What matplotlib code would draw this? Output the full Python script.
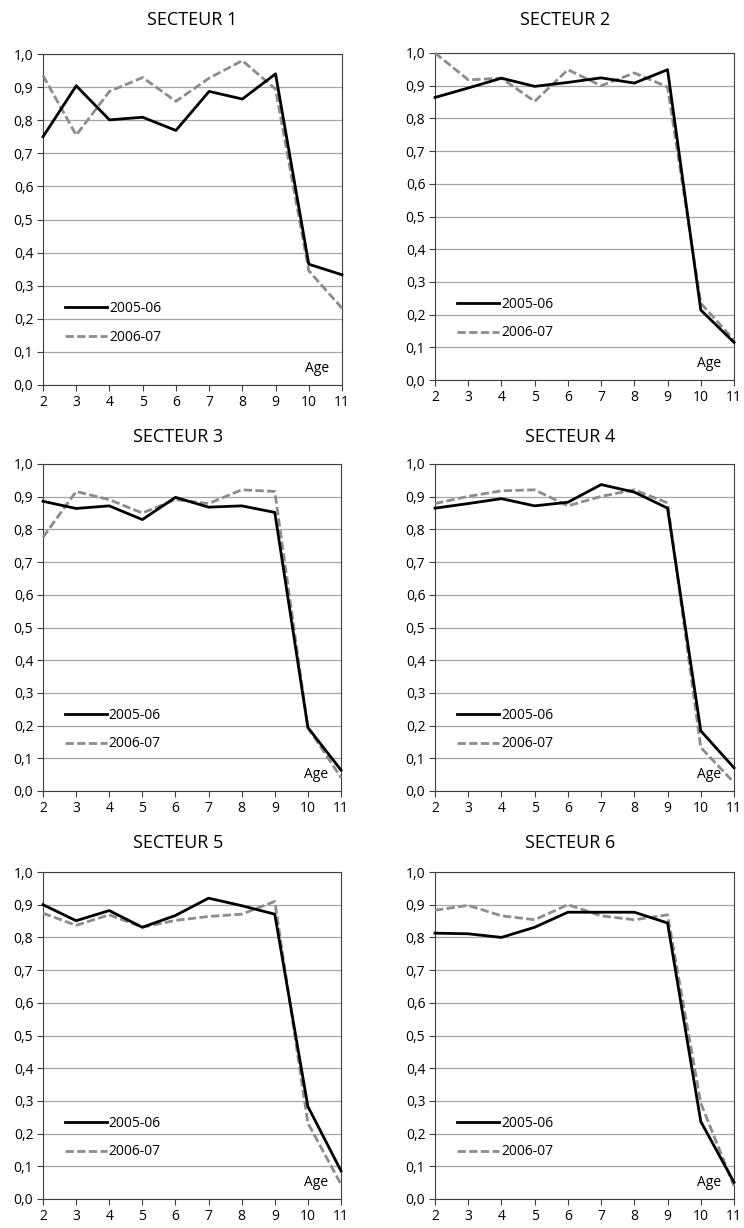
import matplotlib
matplotlib.use("Agg")
import matplotlib.pyplot as plt
import numpy as np

plt.rcParams['font.family'] = ['Open Sans', 'DejaVu Sans']

ages = [2, 3, 4, 5, 6, 7, 8, 9, 10, 11]
age_labels = ['2', '3', '4', '5', '6', '7', '8', '9', '10', '11']
series_labels = ['2005-06', '2006-07']
titles = ['SECTEUR 1', 'SECTEUR 2', 'SECTEUR 3', 'SECTEUR 4', 'SECTEUR 5', 'SECTEUR 6']

s1_2005 = [0.750, 0.904, 0.801, 0.809, 0.769, 0.887, 0.864, 0.940, 0.365, 0.333]
s1_2006 = [0.935, 0.755, 0.887, 0.929, 0.857, 0.927, 0.980, 0.894, 0.345, 0.232]
s2_2005 = [0.864, 0.893, 0.923, 0.898, 0.910, 0.924, 0.908, 0.949, 0.214, 0.115]
s2_2006 = [1.000, 0.918, 0.923, 0.852, 0.949, 0.900, 0.939, 0.896, 0.235, 0.122]
s3_2005 = [0.886, 0.864, 0.872, 0.830, 0.898, 0.868, 0.872, 0.852, 0.194, 0.064]
s3_2006 = [0.776, 0.916, 0.891, 0.850, 0.891, 0.879, 0.921, 0.916, 0.194, 0.041]
s4_2005 = [0.865, 0.879, 0.894, 0.872, 0.883, 0.937, 0.914, 0.865, 0.184, 0.071]
s4_2006 = [0.879, 0.901, 0.918, 0.921, 0.872, 0.901, 0.921, 0.881, 0.133, 0.026]
s5_2005 = [0.900, 0.851, 0.882, 0.831, 0.867, 0.920, 0.897, 0.871, 0.283, 0.086]
s5_2006 = [0.874, 0.837, 0.869, 0.831, 0.852, 0.864, 0.871, 0.910, 0.232, 0.045]
s6_2005 = [0.813, 0.811, 0.800, 0.831, 0.877, 0.877, 0.877, 0.844, 0.237, 0.051]
s6_2006 = [0.883, 0.898, 0.866, 0.854, 0.900, 0.866, 0.854, 0.869, 0.293, 0.040]

data = [(s1_2005, s1_2006), (s2_2005, s2_2006), (s3_2005, s3_2006),
        (s4_2005, s4_2006), (s5_2005, s5_2006), (s6_2005, s6_2006)]

W, H = 744, 1228
fig = plt.figure(figsize=(W / 100, H / 100), dpi=100)

# axes boxes in pixels: (left, top, right, bottom)
boxes = [(43, 54, 342, 385), (435, 53, 734, 380),
         (43, 464, 341, 791), (435, 464, 734, 791),
         (43, 872, 341, 1199), (435, 872, 734, 1199)]
title_pos = [(192, 20), (565, 20), (178, 437), (570, 437), (178, 843), (570, 843)]

yticks = np.arange(0, 1.01, 0.1)
ytick_labels = [('%.1f' % v).replace('.', ',') for v in yticks]

for i, ((l, t, r, b), (a, c)) in enumerate(zip(boxes, data)):
    ax = fig.add_axes([l / W, 1 - b / H, (r - l) / W, (b - t) / H])
    ax.set_xlim(2, 11)
    ax.set_ylim(0, 1.0)
    ax.set_yticks(yticks)
    ax.set_yticklabels(ytick_labels)
    ax.set_xticks(ages)
    ax.set_xticklabels(age_labels)
    ax.yaxis.grid(True, color='#a6a6a6', linewidth=0.9)
    ax.set_axisbelow(True)
    for sp in ax.spines.values():
        sp.set_color('#404040')
        sp.set_linewidth(0.8)
    ax.tick_params(axis='both', direction='out', length=4, width=0.8,
                   color='#404040', labelsize=10, pad=3, labelcolor='black')
    ax.plot(ages, a, color='black', linewidth=2.0, label=series_labels[0],
            clip_on=False, zorder=4)
    ax.plot(ages, c, color='#8c8c8c', linewidth=2.0, linestyle=(0, (3.0, 1.2)),
            label=series_labels[1], clip_on=False, zorder=3)
    ax.legend(loc='center left', bbox_to_anchor=(0.074, 0.188), frameon=False,
              fontsize=10, handlelength=3.0, handletextpad=0.15, labelspacing=1.0,
              borderaxespad=0, borderpad=0)
    ax.text(0.915, 0.05, 'Age', transform=ax.transAxes, ha='center', va='center',
            fontsize=10)
    tx, ty = title_pos[i]
    fig.text(tx / W, 1 - ty / H, titles[i], ha='center', va='center', fontsize=13)

fig.savefig('out.png', dpi=100)
